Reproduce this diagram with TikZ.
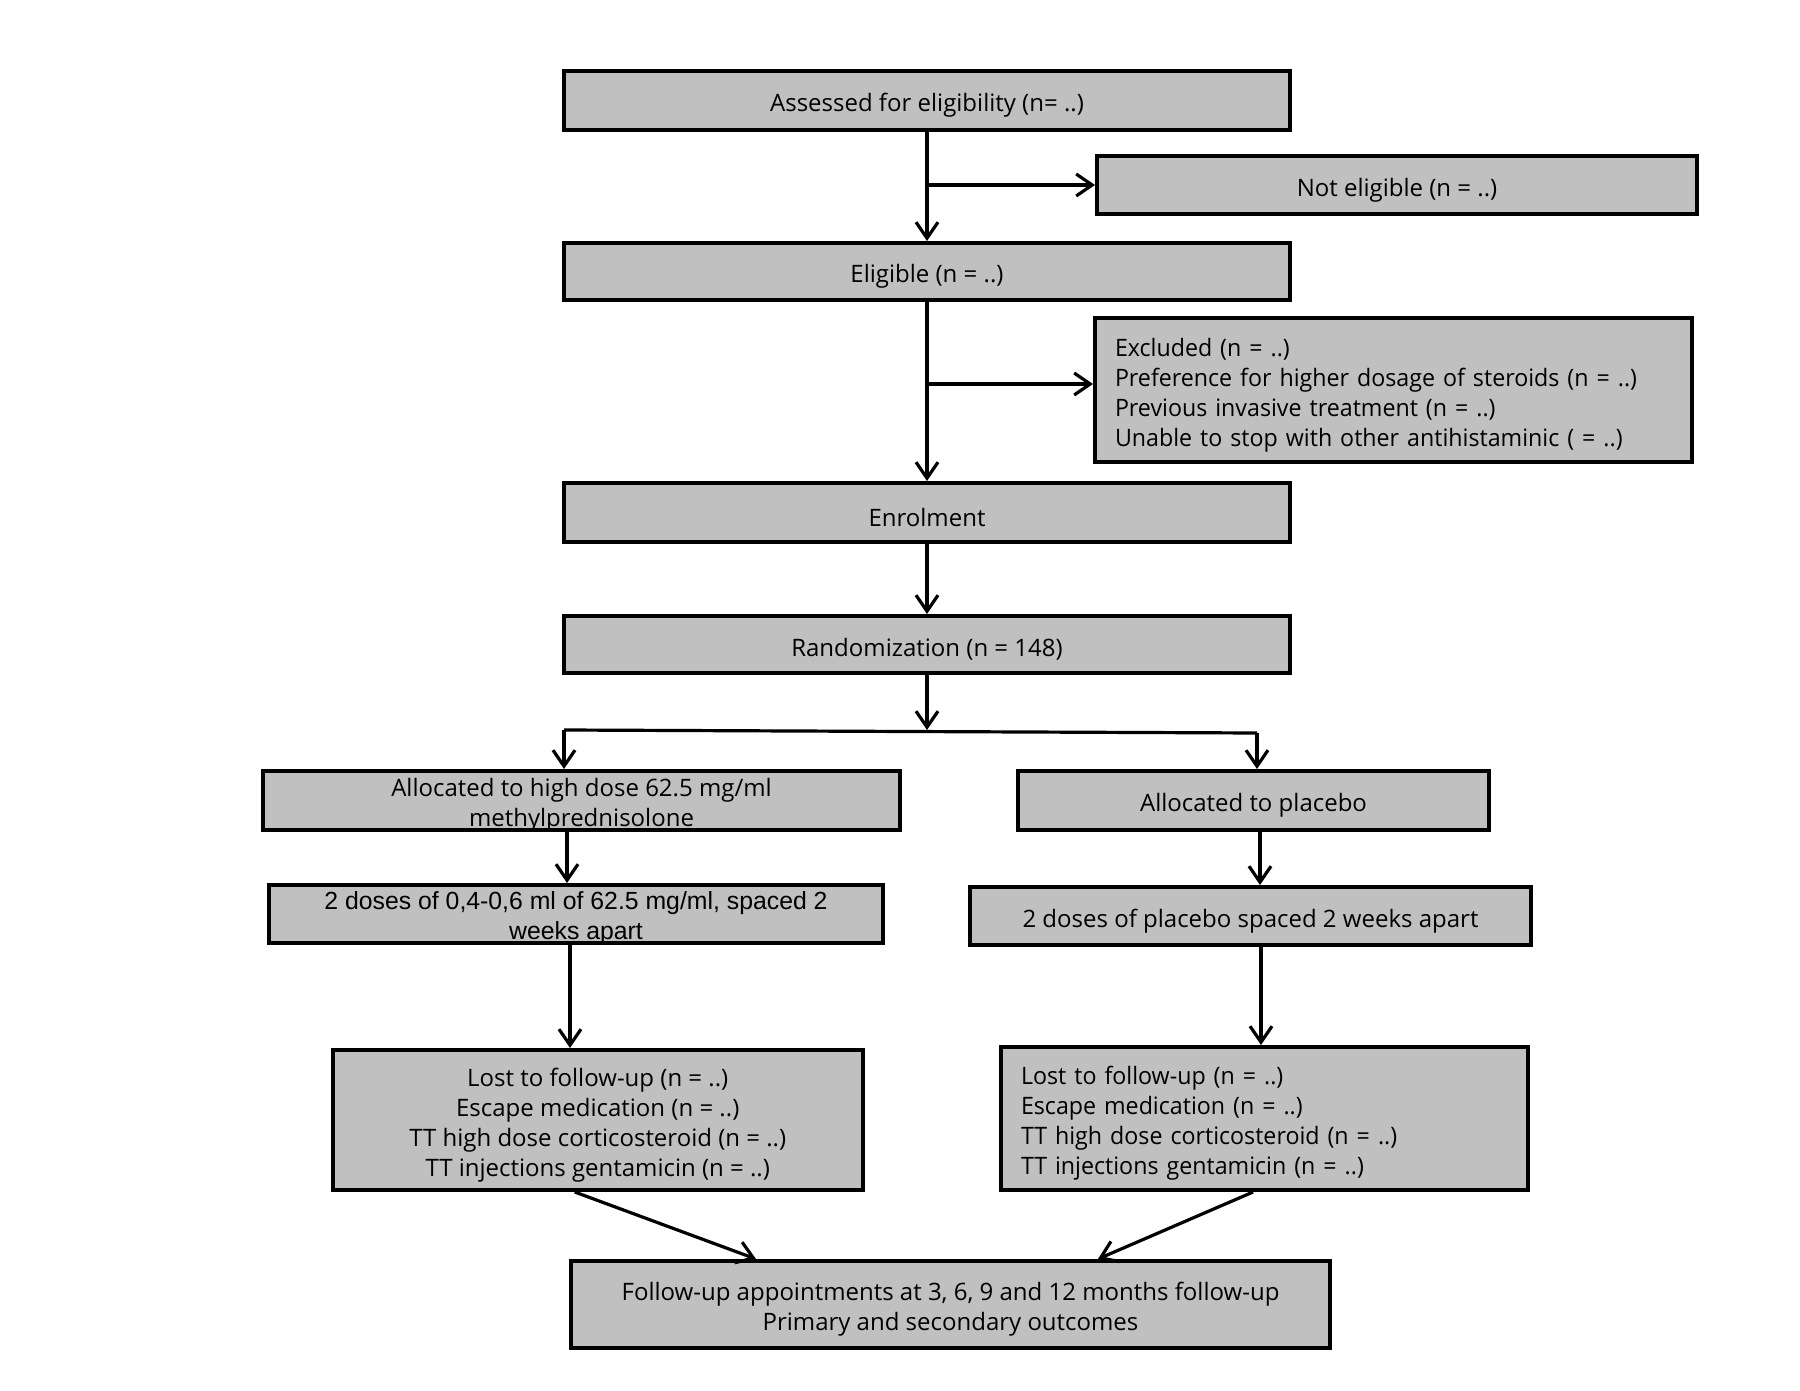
\documentclass[tikz,border=0pt]{standalone}
\usepackage{fontspec}
\setmainfont{Open Sans}
\newfontfamily\narrowfont[FakeStretch=0.967]{Open Sans}
\newfontfamily\arialfont{Liberation Sans}
\usetikzlibrary{arrows.meta,calc}
\definecolor{boxgray}{RGB}{192,192,192}
\begin{document}
\begin{tikzpicture}[x=0.5pt,y=-0.5pt,
  box/.style={draw=black,line width=2pt,fill=boxgray,rectangle,inner sep=0pt},
  txt/.style={inner sep=0pt,font=\fontsize{12}{15}\selectfont,align=center},
  ltxt/.style={inner sep=0pt,font=\narrowfont\fontsize{12}{15}\selectfont,align=left},
  arr/.style={line width=1.6pt,-{Straight Barb[length=8pt,width=11pt,line width=1.6pt]}},
  ln/.style={line width=1.6pt}]
\fill[white] (0,0) rectangle (1800,1391);
\useasboundingbox (0,0) rectangle (1800,1391);

% boxes
\node[box,minimum width=363pt,minimum height=29.5pt] (assess) at (927,100.5) {};
\node[box,minimum width=300pt,minimum height=29pt] (notel) at (1397,185) {};
\node[box,minimum width=363pt,minimum height=28.5pt] (elig) at (927,271.5) {};
\node[box,minimum width=298.5pt,minimum height=72pt] (excl) at (1393.5,390) {};
\node[box,minimum width=363pt,minimum height=29.5pt] (enrol) at (927,512.5) {};
\node[box,minimum width=363pt,minimum height=28.5pt] (rand) at (927,644.5) {};
\node[box,minimum width=318.5pt,minimum height=29.5pt] (hd) at (581.5,800.5) {};
\node[box,minimum width=235.5pt,minimum height=29.5pt] (pl) at (1253.5,800.5) {};
\node[box,minimum width=307pt,minimum height=29pt] (dl) at (576,914) {};
\node[box,minimum width=280.5pt,minimum height=29pt] (dp) at (1250.5,916) {};
\node[box,minimum width=265.25pt,minimum height=70pt] (lostl) at (597.75,1120) {};
\node[box,minimum width=263.25pt,minimum height=71.5pt] (lostr) at (1264.25,1118.5) {};
\node[box,minimum width=379.5pt,minimum height=43.5pt] (fu) at (950.5,1304.5) {};

% texts
\node[txt] (assess-t) at ([yshift=-2.5pt]assess.center) {Assessed for eligibility (n= ..)};
\node[txt] (notel-t) at ([yshift=-2.5pt]notel.center) {Not eligible (n = ..)};
\node[txt] (elig-t) at ([yshift=-2.5pt]elig.center) {Eligible (n = ..)};
\node[ltxt,text width=278.5pt] (excl-t) at ([yshift=-2.5pt]excl.center)
  {Excluded (n = ..)\\Preference for higher dosage of steroids (n = ..)\\Previous invasive treatment (n = ..)\\Unable to stop with other antihistaminic ( = ..)};
\node[txt] (enrol-t) at ([yshift=-2.5pt]enrol.center) {Enrolment};
\node[txt] (rand-t) at ([yshift=-2.5pt]rand.center) {Randomization (n = 148)};
\node[txt] (hd-t) at ([yshift=-2.5pt]hd.center) {Allocated to high dose 62.5 mg/ml\\methylprednisolone};
\node[txt] (pl-t) at ([yshift=-2.5pt]pl.center) {Allocated to placebo};
\node[txt,font=\arialfont\fontsize{12.4}{15}\selectfont] (dl-t) at ([yshift=-2pt]dl.center)
  {2 doses of 0,4-0,6 ml of 62.5 mg/ml, spaced 2\\weeks apart};
\node[txt] (dp-t) at ([yshift=-2.5pt]dp.center) {2 doses of placebo spaced 2 weeks apart};
\node[txt] (lostl-t) at ([yshift=-2.5pt]lostl.center)
  {Lost to follow-up (n = ..)\\Escape medication (n = ..)\\TT high dose corticosteroid (n = ..)\\TT injections gentamicin (n = ..)};
\node[ltxt,text width=243.25pt] (lostr-t) at ([yshift=-2.5pt]lostr.center)
  {Lost to follow-up (n = ..)\\Escape medication (n = ..)\\TT high dose corticosteroid (n = ..)\\TT injections gentamicin (n = ..)};
\node[txt] (fu-t) at ([yshift=-2.5pt]fu.center)
  {Follow-up appointments at 3, 6, 9 and 12 months follow-up\\Primary and secondary outcomes};

% junctions
\coordinate (j1) at (927,185);
\coordinate (j2) at (927,384);
\coordinate (sp) at (927,730);
\coordinate (spL) at (564,730);
\coordinate (spR) at (1257,733);
\coordinate (xl1) at (567,0);
\coordinate (xr1) at (1260,0);
\coordinate (xl2) at (570,0);
\coordinate (xr2) at (1261,0);

% connectors
\draw[arr] (assess.south) -- (elig.north);
\draw[arr] (j1) -- (j1 -| notel.west);
\draw[arr] (elig.south) -- (enrol.north);
\draw[arr] (j2) -- (j2 -| excl.west);
\draw[arr] (enrol.south) -- (rand.north);
\draw[arr] (rand.south) -- (sp);
\draw[ln] (spL) -- (spR);
\draw[arr] (spL) -- (spL |- hd.north);
\draw[arr] (spR) -- (spR |- pl.north);
\draw[arr] (xl1 |- hd.south) -- (xl1 |- dl.north);
\draw[arr] (xr1 |- pl.south) -- (xr1 |- dp.north);
\draw[arr] (xl2 |- dl.south) -- (xl2 |- lostl.north);
\draw[arr] (xr2 |- dp.south) -- (xr2 |- lostr.north);
\draw[arr] ([xshift=-11.5pt]lostl.south) -- ([xshift=-97.25pt]fu.north);
\draw[arr] ([xshift=-5.6pt]lostr.south) -- ([xshift=73.75pt]fu.north);
\end{tikzpicture}
\end{document}
